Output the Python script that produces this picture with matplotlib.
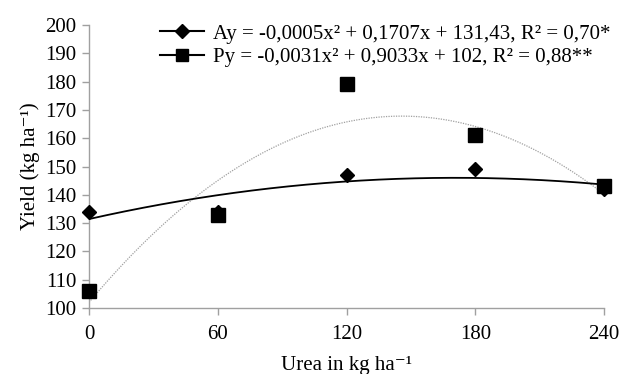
import numpy as np
import matplotlib
matplotlib.use("Agg")
import matplotlib.pyplot as plt
from matplotlib.lines import Line2D

plt.rcParams['font.family'] = ['Liberation Serif', 'DejaVu Serif']

# data
urea = [0, 60, 120, 180, 240]
yield_a = [134, 134, 147, 149, 142]
yield_p = [106, 133, 179, 161, 143]

# regression coefficients from the legend (a, b, c)
coef_a = [-0.0005, 0.1707, 131.43]
coef_p = [-0.0031, 0.9033, 102]

label_a = "Ay = -0,0005x² + 0,1707x + 131,43, R² = 0,70*"
label_p = "Py = -0,0031x² + 0,9033x + 102, R² = 0,88**"

fig = plt.figure(figsize=(6.33, 3.74), dpi=100)
ax = fig.add_axes([89/633, 1-308/374, (604-89)/633, (308-25)/374])

xx = np.linspace(0, 240, 200)
ax.plot(xx, np.polyval(coef_p, xx), color='#a0a0a0', lw=0.9, ls=(0, (1, 1)), zorder=2)
ax.plot(xx, np.polyval(coef_a, xx), color='black', lw=1.3, zorder=3)
ax.plot(urea, yield_a, 'D', color='black', ms=7.5, zorder=4, clip_on=False)
ax.plot(urea, yield_p, 's', color='black', ms=9.5, zorder=5, clip_on=False)

ax.set_xlim(0, 240)
ax.set_ylim(100, 200)
ax.set_xticks(urea)
ax.set_yticks(range(100, 201, 10))
ax.tick_params(labelsize=15, color='#a0a0a0', length=5, width=1)
ax.tick_params(axis='x', pad=7)
ax.tick_params(axis='y', pad=4)
for s in ['top', 'right']:
    ax.spines[s].set_visible(False)
for s in ['left', 'bottom']:
    ax.spines[s].set_color('#a0a0a0')
    ax.spines[s].set_linewidth(1)

ax.set_ylabel("Yield (kg ha⁻¹)", fontsize=15, labelpad=4)
ax.set_xlabel("Urea in kg ha⁻¹", fontsize=15, labelpad=9)

handles = [Line2D([], [], color='black', lw=1.5, marker='D', ms=7),
           Line2D([], [], color='black', lw=1.5, marker='s', ms=8.5)]
ax.legend(handles, [label_a, label_p], loc='upper left', bbox_to_anchor=(0.118, 1.04),
          frameon=False, fontsize=15, handlelength=2.1, handletextpad=0.45,
          labelspacing=0.18, borderpad=0)

fig.savefig("out.png", dpi=100)
